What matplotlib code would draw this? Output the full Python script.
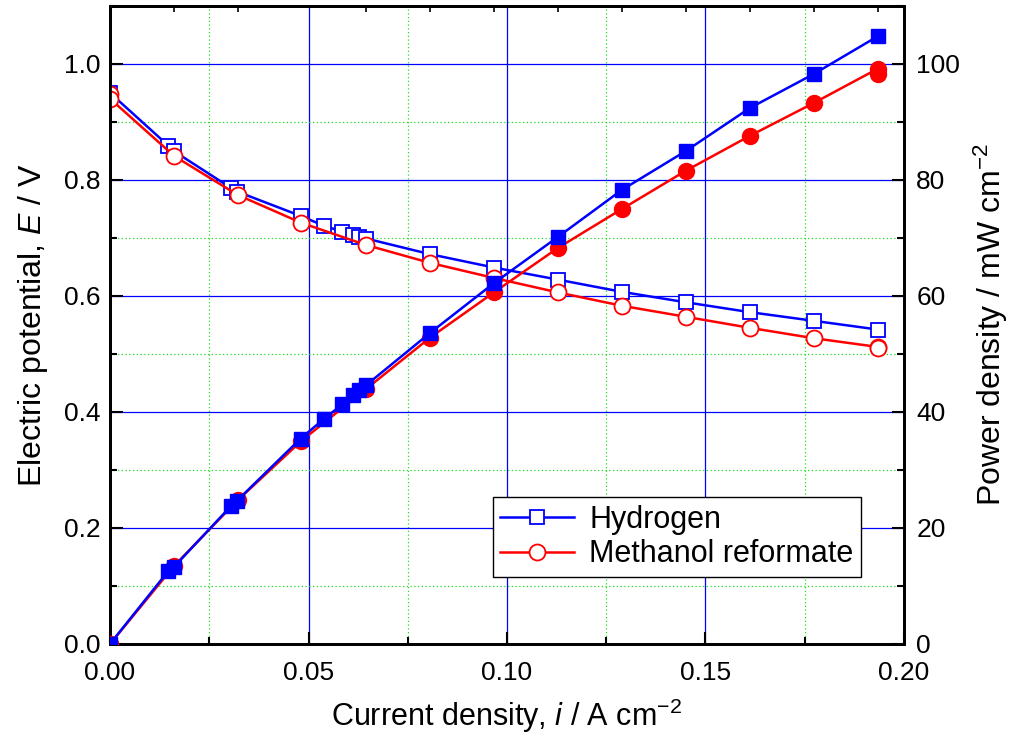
import matplotlib
matplotlib.use("Agg")
import matplotlib.pyplot as plt
from matplotlib import font_manager as fm
from matplotlib.ticker import MultipleLocator, FormatStrFormatter

# current density (A cm-2), potential (V), power density (mW cm-2)
i_h2 = [0.000, 0.0147, 0.0160, 0.0305, 0.0320, 0.0480, 0.0539, 0.0585, 0.0613,
        0.0627, 0.0645, 0.0806, 0.0967, 0.1129, 0.1290, 0.1451, 0.1612, 0.1774, 0.1935]
E_h2 = [0.950, 0.859, 0.850, 0.786, 0.780, 0.738, 0.721, 0.711, 0.705,
        0.701, 0.699, 0.672, 0.649, 0.628, 0.607, 0.589, 0.572, 0.557, 0.542]
P_h2 = [0.0, 12.6, 13.2, 23.8, 24.7, 35.4, 38.8, 41.3, 43.0,
        43.8, 44.6, 53.6, 62.2, 70.2, 78.3, 85.0, 92.4, 98.3, 104.8]

i_meoh = [0.000, 0.000, 0.0162, 0.0322, 0.0482, 0.0644, 0.0806, 0.0967,
          0.1129, 0.1290, 0.1451, 0.1612, 0.1774, 0.1935, 0.1935]
E_meoh = [0.948, 0.940, 0.841, 0.774, 0.726, 0.688, 0.657, 0.631,
          0.606, 0.583, 0.564, 0.545, 0.527, 0.512, 0.511]
P_meoh = [0.0, 0.0, 13.5, 24.8, 35.0, 43.9, 52.8, 60.6,
          68.3, 75.0, 81.6, 87.6, 93.3, 99.2, 98.2]

# small ticks along the top edge
top_ticks = [0.0162, 0.0322, 0.0644, 0.0806, 0.0967, 0.1129, 0.1290,
             0.1451, 0.1612, 0.1774, 0.1935]

BLUE = "#0000FF"
RED = "#FF0000"

plt.rcParams["font.family"] = ["Liberation Sans", "DejaVu Sans"]
plt.rcParams["mathtext.fontset"] = "custom"
plt.rcParams["mathtext.rm"] = "Liberation Sans"
plt.rcParams["mathtext.it"] = "Liberation Sans:italic"

try:
    fm.findfont("Liberation Sans Narrow", fallback_to_default=False)
    narrow = "Liberation Sans Narrow"
except Exception:
    narrow = "Liberation Sans"

fig = plt.figure(figsize=(10.19, 7.41), dpi=100)
ax = fig.add_axes([0.108, 0.131, 0.779, 0.861])
ax2 = ax.twinx()

ax.plot(i_h2, E_h2, "-s", color=BLUE, lw=1.8, ms=10, mfc="white", mec=BLUE,
        mew=1.3, label="Hydrogen", zorder=3)
ax.plot(i_meoh, E_meoh, "-o", color=RED, lw=1.8, ms=11.5, mfc="white", mec=RED,
        mew=1.3, label="Methanol reformate", zorder=4)

ax2.plot(i_meoh, P_meoh, "-o", color=RED, lw=1.8, ms=11.5, mfc=RED, mec=RED, zorder=3)
ax2.plot(i_h2, P_h2, "-s", color=BLUE, lw=1.8, ms=10, mfc=BLUE, mec=BLUE, zorder=4)

ax.set_xlim(0, 0.20)
ax.set_ylim(0, 1.1)
ax2.set_ylim(0, 110)

ax.xaxis.set_major_locator(MultipleLocator(0.05))
ax.xaxis.set_minor_locator(MultipleLocator(0.025))
ax.yaxis.set_major_locator(MultipleLocator(0.2))
ax.yaxis.set_minor_locator(MultipleLocator(0.1))
ax2.yaxis.set_major_locator(MultipleLocator(20))
ax2.yaxis.set_minor_locator(MultipleLocator(10))
ax.xaxis.set_major_formatter(FormatStrFormatter("%.2f"))
ax.yaxis.set_major_formatter(FormatStrFormatter("%.1f"))

ax.grid(True, which="major", color=BLUE, lw=0.9, ls="-")
ax.grid(True, which="minor", color="#22DD22", lw=0.9, ls=(0, (1, 2)))
ax.set_axisbelow(True)

ax.tick_params(which="both", direction="in", top=False, right=False, width=1.5,
               labelsize=19, pad=7)
ax.tick_params(axis="x", which="both", pad=12)
ax.tick_params(which="major", length=9)
ax.tick_params(which="minor", length=5)
ax2.tick_params(which="both", direction="in", width=1.5, labelsize=19, pad=9)
ax2.tick_params(which="major", length=9)
ax2.tick_params(which="minor", length=5)
for lab in ax.get_xticklabels():
    lab.set_family(narrow)
    lab.set_fontsize(19)

top = ax.secondary_xaxis("top")
top.set_xticks(top_ticks)
top.tick_params(direction="in", length=4, width=1.2, labeltop=False)

for a in (ax, ax2):
    for s in a.spines.values():
        s.set_linewidth(2)
top.spines["top"].set_linewidth(2)

ax.set_xlabel("Current density, $\\it{i}$ / A cm$^{-2}$", fontsize=22, labelpad=9)
ax.set_ylabel("Electric potential, $\\it{E}$ / V", fontsize=23, labelpad=10)
ax2.set_ylabel("Power density / mW cm$^{-2}$", fontsize=23, labelpad=8)

leg = ax.legend(loc="lower right", bbox_to_anchor=(0.946, 0.105), fontsize=22,
                frameon=True, fancybox=False, edgecolor="black", framealpha=1,
                handlelength=2.4, borderpad=0.25, labelspacing=0.15, handletextpad=0.5,
                borderaxespad=0)
leg.get_frame().set_linewidth(1.0)
leg.set_zorder(10)

fig.savefig("out.png", dpi=100)
